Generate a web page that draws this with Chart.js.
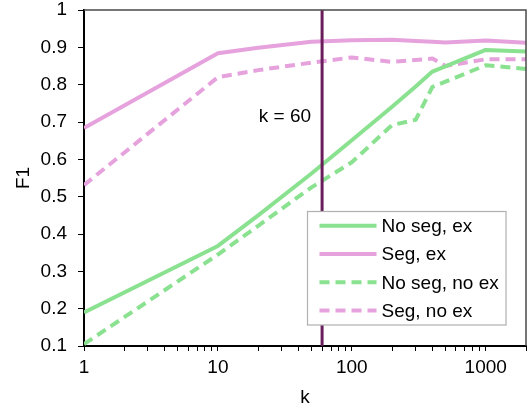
<!DOCTYPE html>
<html>
<head>
<meta charset="utf-8">
<script src="https://cdn.jsdelivr.net/npm/chart.js@4/dist/chart.umd.min.js"></script>
<style>
  html, body { margin: 0; padding: 0; background: #ffffff; }
  #wrap { width: 527px; height: 409px; }
</style>
</head>
<body>
<div id="wrap"><canvas id="c" width="527" height="409"></canvas></div>
<script>
// ---- data ----
const ks = [1, 10, 20, 50, 100, 200, 300, 400, 500, 1000, 2000];
const noSegEx   = [0.190, 0.368, 0.450, 0.562, 0.651, 0.741, 0.795, 0.835, 0.849, 0.893, 0.889];
const segEx     = [0.684, 0.884, 0.899, 0.915, 0.919, 0.920, 0.917, 0.915, 0.913, 0.918, 0.912];
const noSegNoEx = [0.105, 0.345, 0.422, 0.525, 0.592, 0.692, 0.706, 0.794, 0.808, 0.852, 0.842];
const segNoEx   = [0.531, 0.820, 0.839, 0.859, 0.873, 0.861, 0.866, 0.870, 0.850, 0.868, 0.868];
const seriesNames = ['No seg, ex', 'Seg, ex', 'No seg, no ex', 'Seg, no ex'];
const markerK = 60;
const markerSpan = [0.1, 1];
const markerLabel = 'k = 60';
const xTickLabels = [1, 10, 100, 1000];
const yTickLabels = ['0.1','0.2','0.3','0.4','0.5','0.6','0.7','0.8','0.9','1'];
const xTitle = 'k';
const yTitle = 'F1';

const GREEN = '#8ae190';
const PINK = '#e6a2dd';
const PURPLE = '#6a1d5b';
const FONT = "'Liberation Sans', Arial, sans-serif";

function pts(vals) { return ks.map((k, i) => ({ x: k, y: vals[i] })); }

const seriesDefs = [
  { label: seriesNames[0], data: pts(noSegEx),   borderColor: GREEN, borderDash: [] },
  { label: seriesNames[1], data: pts(segEx),     borderColor: PINK,  borderDash: [] },
  { label: seriesNames[2], data: pts(noSegNoEx), borderColor: GREEN, borderDash: [10, 6] },
  { label: seriesNames[3], data: pts(segNoEx),   borderColor: PINK,  borderDash: [10, 6] },
];

const datasets = seriesDefs.map(s => ({
  label: s.label, data: s.data, borderColor: s.borderColor, backgroundColor: s.borderColor,
  borderDash: s.borderDash, borderWidth: 4, pointRadius: 0, tension: 0, fill: false, order: 1,
  borderJoinStyle: 'round'
}));
datasets.push({
  label: 'marker', data: [{ x: markerK, y: markerSpan[0] }, { x: markerK, y: markerSpan[1] }],
  borderColor: PURPLE, borderWidth: 3, pointRadius: 0, fill: false, order: 0
});

// minor tick positions for log axis (1..9 per decade)
const xTickValues = [];
for (let d = 1; d <= 1000; d *= 10) {
  for (let m = 1; m <= 9; m++) { const v = m * d; if (v <= 2000) xTickValues.push(v); }
}
xTickValues.push(2000);

const framePlugin = {
  id: 'frame',
  afterDatasetsDraw(chart) {
    const { ctx, chartArea: a, scales } = chart;
    ctx.save();
    ctx.strokeStyle = '#4a4a4a';
    ctx.lineWidth = 1.5;
    ctx.beginPath();
    ctx.moveTo(a.left, a.top); ctx.lineTo(a.right, a.top); ctx.lineTo(a.right, a.bottom);
    ctx.stroke();
    const mx = scales.x.getPixelForValue(markerK);
    ctx.fillStyle = '#000';
    ctx.font = '19px ' + FONT;
    ctx.textAlign = 'right';
    ctx.textBaseline = 'middle';
    ctx.fillText(markerLabel, mx - 11, scales.y.getPixelForValue(0.715));
    const bx = a.left + 223.5, by = a.top + 201.5, bw = 198.5, bh = 113.5;
    ctx.fillStyle = '#fff';
    ctx.fillRect(bx, by, bw, bh);
    ctx.strokeStyle = '#b0b0b0';
    ctx.lineWidth = 1.2;
    ctx.strokeRect(bx, by, bw, bh);
    seriesDefs.forEach((s, i) => {
      const yy = by + 14.2 + i * 28.3;
      ctx.strokeStyle = s.borderColor;
      ctx.lineWidth = 4;
      ctx.setLineDash(s.borderDash);
      ctx.beginPath();
      ctx.moveTo(bx + 12, yy); ctx.lineTo(bx + 69, yy);
      ctx.stroke();
      ctx.setLineDash([]);
      ctx.fillStyle = '#000';
      ctx.textAlign = 'left';
      ctx.fillText(s.label, bx + 74, yy + 1);
    });
    ctx.restore();
  }
};

new Chart(document.getElementById('c'), {
  type: 'line',
  data: { datasets },
  plugins: [framePlugin],
  options: {
    responsive: false,
    animation: false,
    devicePixelRatio: 1,
    layout: { padding: { top: 10, right: 1, left: 0, bottom: 0 } },
    plugins: { legend: { display: false }, tooltip: { enabled: false } },
    scales: {
      x: {
        type: 'logarithmic', min: 1, max: 2000,
        afterFit(scale) { scale.height = 63; scale.paddingLeft = 0; scale.paddingRight = 0; },
        afterBuildTicks(scale) { scale.ticks = xTickValues.map(v => ({ value: v })); },
        ticks: {
          autoSkip: false, maxRotation: 0, padding: 5, color: '#000',
          font: { family: FONT, size: 19 },
          callback(v) { return xTickLabels.includes(v) ? String(v) : ''; }
        },
        grid: { display: true, drawOnChartArea: false, drawTicks: true, tickLength: 5, color: '#000', lineWidth: 1 },
        border: { display: true, color: '#000', width: 2 },
        title: { display: true, text: xTitle, color: '#000', font: { family: FONT, size: 19 }, padding: { top: 0, bottom: 0 } }
      },
      y: {
        type: 'linear', min: 0.1, max: 1,
        afterFit(scale) { scale.width = 84; scale.paddingTop = 0; scale.paddingBottom = 0; },
        ticks: {
          stepSize: 0.1, padding: 11, color: '#000',
          font: { family: FONT, size: 19 },
          callback(v) { return yTickLabels[Math.round((v - 0.1) * 10)]; }
        },
        grid: { display: true, drawOnChartArea: false, drawTicks: true, tickLength: 6, color: '#000', lineWidth: 1 },
        border: { display: true, color: '#000', width: 2 },
        title: { display: true, text: yTitle, color: '#000', font: { family: FONT, size: 19 }, padding: { top: 12, bottom: 0 } }
      }
    }
  }
});
</script>
</body>
</html>
